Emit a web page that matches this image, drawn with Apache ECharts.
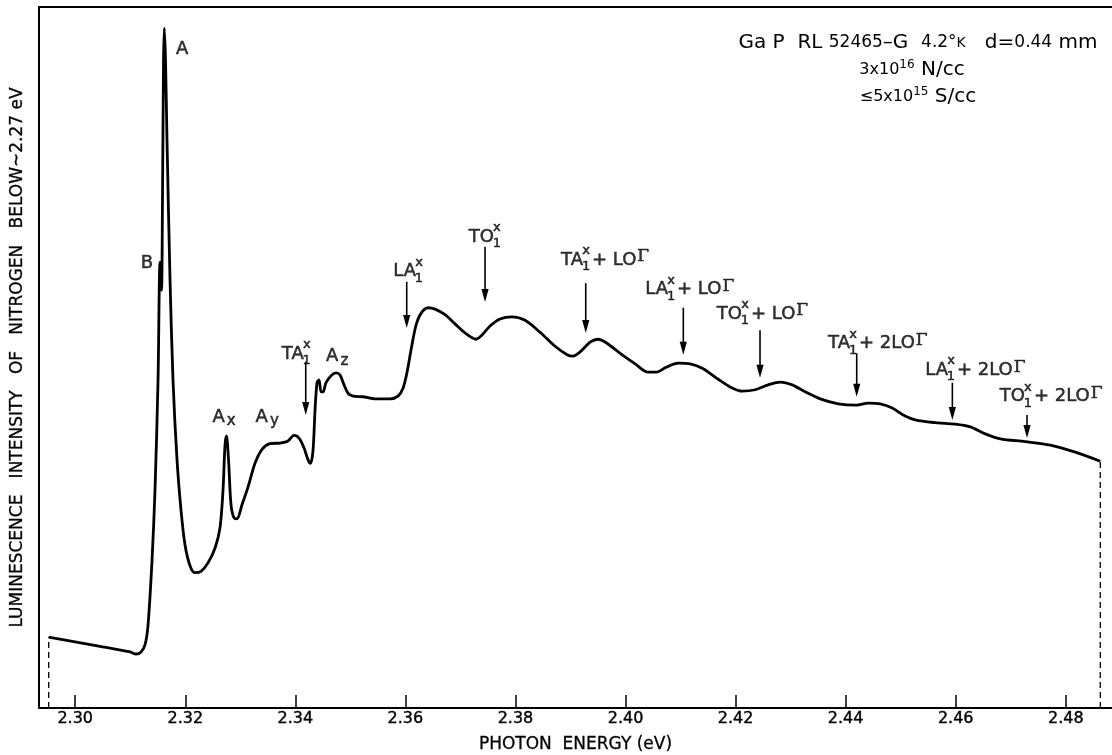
<!DOCTYPE html>
<html>
<head>
<meta charset="utf-8">
<script src="https://cdn.jsdelivr.net/npm/echarts@6/dist/echarts.min.js"></script>
<style>html,body{margin:0;padding:0;background:#fff}#c{width:1112px;height:755px}</style>
</head>
<body>
<div id="c"></div>
<script>
// ---- data ----
const energy = [2.29518,2.30451,2.30996,2.31105,2.31196,2.31268,2.31323,2.31396,2.31450,2.31505,
2.31541,2.31568,2.31586,2.31605,2.31619,2.31641,2.31668,2.31723,2.31777,2.31850,
2.31923,2.31995,2.32086,2.32177,2.32286,2.32413,2.32540,2.32631,2.32686,2.32722,
2.32749,2.32786,2.32831,2.32886,2.32940,2.33031,2.33140,2.33267,2.33395,2.33540,
2.33722,2.33867,2.33976,2.34067,2.34158,2.34231,2.34276,2.34322,2.34358,2.34394,
2.34431,2.34467,2.34503,2.34558,2.34649,2.34740,2.34812,2.34885,2.34958,2.35049,
2.35230,2.35449,2.35721,2.35866,2.35957,2.36030,2.36103,2.36193,2.36284,2.36411,
2.36539,2.36720,2.36902,2.37084,2.37284,2.37393,2.37538,2.37720,2.37938,2.38175,
2.38447,2.38720,2.38938,2.39047,2.39175,2.39357,2.39502,2.39648,2.39902,2.40175,
2.40411,2.40557,2.40738,2.40957,2.41175,2.41411,2.41684,2.41902,2.42120,2.42357,
2.42593,2.42811,2.43029,2.43265,2.43538,2.43865,2.44192,2.44411,2.44629,2.44847,
2.45047,2.45265,2.45629,2.45992,2.46265,2.46537,2.46810,2.47264,2.47719,2.48173,2.48627];
const intensity = [10.1,8.8,8.0,7.7,8.0,9.0,11.8,21.1,31.1,46.8,
63.6,59.6,72.5,92.4,97.0,92.4,81.0,61.1,46.8,35.4,
28.2,23.3,20.3,19.3,19.5,20.7,22.8,25.7,31.1,37.5,
38.8,35.4,29.0,27.1,27.0,29.0,31.5,34.9,36.9,37.7,
37.8,38.1,38.9,38.5,37.1,35.4,34.9,36.8,42.5,46.4,
46.8,45.1,45.1,46.4,47.4,47.8,47.5,46.1,44.9,44.5,
44.4,44.1,44.1,44.5,45.6,47.9,51.1,54.6,56.3,57.1,
56.9,56.1,54.8,53.5,52.6,53.2,54.5,55.5,55.8,55.3,
53.6,51.6,50.4,50.2,50.8,52.2,52.6,52.1,50.6,49.1,
47.9,47.9,48.6,49.2,49.1,48.4,46.9,45.8,45.2,45.4,
46.1,46.5,46.1,45.1,44.1,43.4,43.2,43.5,43.4,42.8,
41.8,41.1,40.7,40.5,40.1,39.1,38.4,38.0,37.5,36.5,35.2];

const tickLabels = ['2.30','2.32','2.34','2.36','2.38','2.40','2.42','2.44','2.46','2.48'];

// peak labels
const peakName = ['A','B','A','A','A'];
const peakSub  = ['','','x','y','z'];
const peakE    = [2.31942,2.31305,2.32706,2.33488,2.34761];
const peakI    = [93.9,63.5,41.5,41.5,50.1];

// phonon replica arrows
const arrowE   = [2.34189,2.36024,2.37447,2.39277,2.41050,2.42444,2.44201,2.45939,2.47296];
const arrowTop = [49.4,60.8,65.8,60.6,57.1,53.9,50.6,46.4,41.8];
const arrowTip = [41.8,54.2,57.9,53.5,50.4,47.1,44.4,41.1,38.5];

// phonon replica labels
const annPre  = ['TA','LA','TO','TA','LA','TO','TA','LA','TO'];
const annPost = ['','','','+ LO','+ LO','+ LO','+ 2LO','+ 2LO','+ 2LO'];
const annE    = [2.34207,2.36247,2.37664,2.39282,2.40827,2.42171,2.44134,2.45914,2.47313];
const annI    = [50.5,62.3,67.2,63.9,59.7,56.2,52.0,48.2,44.4];

// ---- chart ----
const FONT = 'DejaVu Sans';
const INK = '#000';
const THICK = {textBorderColor:'#000', textBorderWidth:0.5};
const xMin = 2.29342, xMax = 2.48840;
const tickVals = tickLabels.map(Number);

const curve = energy.map((e,i)=>[e,intensity[i]]);
const last = energy.length-1;
const cutLeft = [[energy[0],0],[energy[0],intensity[0]]];
const cutRight = [[energy[last],0],[energy[last],intensity[last]]];

const peakData = peakE.map((e,i)=>({
  value:[e,peakI[i]],
  label:{show:true, position:'inside', align:'center', verticalAlign:'middle',
    formatter: '{m|'+peakName[i]+'}' + (peakSub[i] ? '{s|'+peakSub[i]+'}' : ''),
    rich:{ m:Object.assign({fontFamily:FONT,fontSize:18,color:INK},THICK),
           s:Object.assign({fontFamily:FONT,fontSize:15,color:INK,padding:[8,0,0,2]},THICK) } }
}));

const annData = [];
annE.forEach((e,i)=>{
  annData.push({value:[e,annI[i]], label:Object.assign({show:true, position:'inside', align:'right', verticalAlign:'middle',
    offset:[-3,0], formatter:annPre[i], fontFamily:FONT, fontSize:18, color:INK}, THICK)});
  annData.push({value:[e,annI[i]], label:Object.assign({show:true, position:'inside', align:'center', verticalAlign:'middle',
    offset:[0,-1], formatter:'x\n1', fontFamily:FONT, fontSize:13, lineHeight:16, color:INK}, THICK)});
  if (annPost[i]) {
    annData.push({value:[e,annI[i]], label:{show:true, position:'inside', align:'left', verticalAlign:'middle',
      offset:[6,0], formatter:'{m|'+annPost[i]+'}{g|Γ}',
      rich:{ m:Object.assign({fontFamily:FONT,fontSize:18,color:INK},THICK),
             g:Object.assign({fontFamily:'DejaVu Serif',fontSize:17,color:INK,padding:[0,0,6,1]},THICK) } }});
  }
});

const arrowData = arrowE.map((e,i)=>[e,arrowTop[i],arrowTip[i]]);

const option = {
  animation:false,
  backgroundColor:'#fff',
  grid:{left:39, right:0, top:7, bottom:47, containLabel:false, outerBoundsMode:'none'},
  xAxis:[{
    type:'value', min:xMin, max:xMax,
    name:'PHOTON  ENERGY (eV)', nameLocation:'middle', nameGap:28,
    nameTextStyle:Object.assign({fontFamily:FONT, fontSize:17, color:INK}, {textBorderColor:'#000', textBorderWidth:0.3}),
    axisLine:{show:true, onZero:false, lineStyle:{color:INK, width:2}},
    axisTick:{show:true, inside:true, length:13, customValues:tickVals, lineStyle:{color:INK, width:1.5}},
    axisLabel:Object.assign({show:true, margin:3, customValues:tickVals, formatter:v=>v.toFixed(2),
      fontFamily:FONT, fontSize:16, color:INK}, {textBorderColor:'#000', textBorderWidth:0.4}),
    splitLine:{show:false}
  },{
    type:'value', position:'top', min:xMin, max:xMax,
    axisLine:{show:true, onZero:false, lineStyle:{color:INK, width:2}},
    axisTick:{show:false}, axisLabel:{show:false}, splitLine:{show:false}
  }],
  yAxis:{
    type:'value', min:0, max:100,
    name:'LUMINESCENCE   INTENSITY   OF   NITROGEN   BELOW~2.27 eV',
    nameLocation:'middle', nameRotate:90, nameGap:13,
    nameTextStyle:{fontFamily:FONT, fontSize:17, color:INK, textBorderColor:'#000', textBorderWidth:0.3},
    axisLine:{show:true, lineStyle:{color:INK, width:2}},
    axisTick:{show:false}, axisLabel:{show:false}, splitLine:{show:false}
  },
  series:[
    {type:'line', data:curve, smooth:0.3, symbol:'none',
     lineStyle:{color:INK, width:2.8}, z:3},
    {type:'line', data:cutLeft, symbol:'none', lineStyle:{color:INK, width:1.3, type:[6,4]}},
    {type:'line', data:cutRight, symbol:'none', lineStyle:{color:INK, width:1.3, type:[6,4]}},
    {type:'custom', data:arrowData, encode:{x:0, y:[1,2]}, z:4,
     renderItem:(params, api)=>{
       const p1 = api.coord([api.value(0), api.value(1)]);
       const p2 = api.coord([api.value(0), api.value(2)]);
       return {type:'group', children:[
         {type:'line', shape:{x1:p1[0], y1:p1[1], x2:p2[0], y2:p2[1]-10},
          style:{stroke:INK, lineWidth:1.6}},
         {type:'polygon', shape:{points:[[p2[0]-3.6,p2[1]-13],[p2[0]+3.6,p2[1]-13],[p2[0],p2[1]]]},
          style:{fill:INK}}
       ]};
     }},
    {type:'scatter', data:peakData, symbolSize:1, itemStyle:{color:'rgba(0,0,0,0)'}, silent:true, z:5},
    {type:'scatter', data:annData, symbolSize:1, itemStyle:{color:'rgba(0,0,0,0)'}, silent:true, z:5}
  ],
  graphic:[
    {type:'text', x:918, y:43, style:{
      text:'{l|Ga P  RL }{n|52465}{l|–G  }{n|4.2°}{k|K}{l|   d=}{n|0.44}{l| mm}',
      align:'center', verticalAlign:'middle',
      rich:{ l:{fontFamily:FONT,fontSize:20,fill:INK}, n:{fontFamily:FONT,fontSize:17,fill:INK},
             k:{fontFamily:FONT,fontSize:14,fill:INK} } }},
    {type:'text', x:912, y:70, style:{
      text:'{n|3x10}{sup|16}{l| N/cc}', align:'center', verticalAlign:'middle',
      rich:{ l:{fontFamily:FONT,fontSize:20,fill:INK}, n:{fontFamily:FONT,fontSize:16,fill:INK},
             sup:{fontFamily:FONT,fontSize:12,fill:INK,padding:[0,0,10,0]} } }},
    {type:'text', x:918, y:97, style:{
      text:'{n|≤5x10}{sup|15}{l| S/cc}', align:'center', verticalAlign:'middle',
      rich:{ l:{fontFamily:FONT,fontSize:20,fill:INK}, n:{fontFamily:FONT,fontSize:16,fill:INK},
             sup:{fontFamily:FONT,fontSize:12,fill:INK,padding:[0,0,10,0]} } }}
  ]
};
echarts.init(document.getElementById('c'), null, {renderer:'canvas'}).setOption(option);
</script>
</body>
</html>
